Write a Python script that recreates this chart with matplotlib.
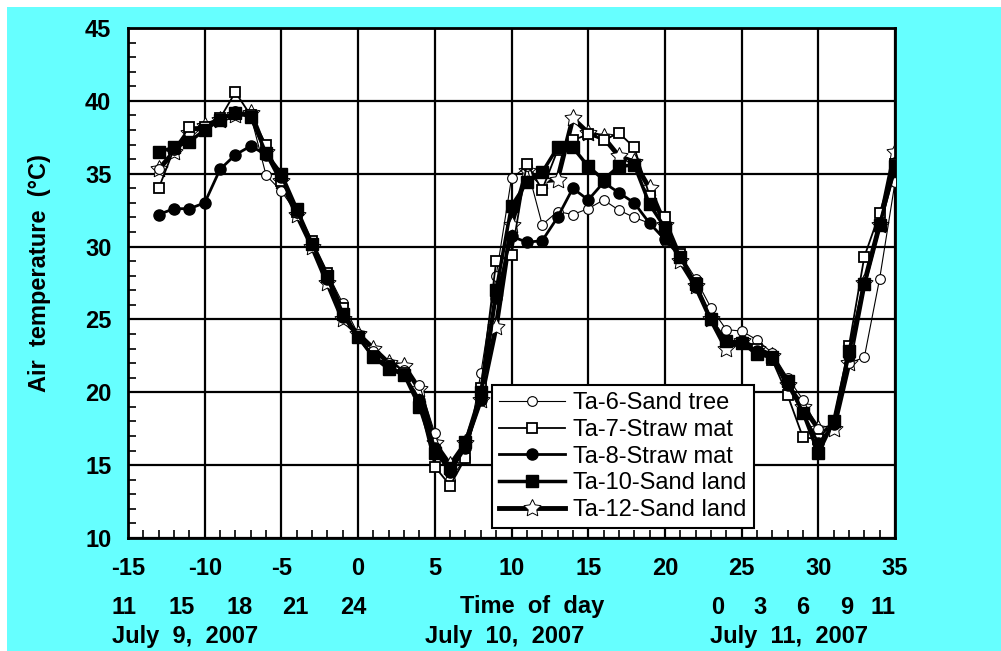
import matplotlib
matplotlib.use('Agg')
import matplotlib.pyplot as plt
from matplotlib.patches import Rectangle
from matplotlib.ticker import MultipleLocator

plt.rcParams['font.family'] = ['Liberation Sans', 'DejaVu Sans']
plt.rcParams['axes.unicode_minus'] = False

# hours relative to midnight of July 10
hours = list(range(-13, 36))

ta6 = [35.3, 36.6, 37.8, 38.2, 38.8, 39.3, 39.0, 34.9, 33.8, 32.3, 30.3, 28.2, 26.1,
       24.0, 22.8, 22.0, 21.5, 20.5, 17.2, 14.0, 15.5, 21.3, 28.0, 34.7, 35.5, 31.5,
       32.4, 32.2, 32.6, 33.2, 32.5, 32.0, 31.6, 30.4, 29.5, 27.8, 25.8, 24.3, 24.2,
       23.6, 22.7, 21.0, 19.5, 17.5, 17.8, 22.0, 22.4, 27.8, 34.4]
ta7 = [34.0, 36.7, 38.2, 38.2, 38.8, 40.6, 39.0, 37.0, 34.5, 32.4, 30.4, 28.2, 25.8,
       23.8, 22.5, 21.8, 21.3, 19.2, 14.9, 13.6, 15.5, 20.3, 29.0, 29.4, 35.7, 33.9,
       36.6, 37.3, 37.7, 37.3, 37.8, 36.8, 33.5, 32.0, 29.5, 27.5, 25.0, 23.5, 23.3,
       23.0, 22.2, 19.8, 16.9, 16.8, 18.0, 23.2, 29.3, 32.3, 35.7]
ta8 = [32.2, 32.6, 32.6, 33.0, 35.3, 36.3, 36.9, 36.3, 34.8, 32.5, 30.2, 27.8, 25.2,
       23.8, 22.4, 21.8, 21.2, 19.5, 16.2, 14.5, 16.2, 19.5, 26.5, 30.7, 30.3, 30.4,
       32.0, 34.0, 33.2, 34.4, 33.7, 33.0, 31.6, 30.5, 29.3, 27.2, 25.0, 23.5, 23.5,
       22.8, 22.3, 20.5, 18.6, 16.5, 17.8, 22.5, 27.5, 31.5, 35.3]
ta10 = [36.5, 36.8, 37.2, 38.0, 38.7, 39.2, 38.9, 36.4, 35.0, 32.6, 30.2, 28.0, 25.4,
        23.8, 22.4, 21.6, 21.2, 19.0, 15.8, 14.8, 16.6, 20.0, 27.0, 32.8, 34.4, 35.1,
        36.8, 36.8, 35.5, 34.6, 35.5, 35.6, 32.9, 31.3, 29.3, 27.4, 25.0, 23.5, 23.4,
        22.6, 22.4, 20.8, 18.6, 15.8, 18.0, 22.8, 27.4, 31.5, 35.5]
ta12 = [35.3, 36.5, 37.8, 38.3, 38.7, 39.0, 39.2, 36.5, 34.5, 32.2, 30.0, 27.5, 25.0,
        24.0, 23.0, 22.0, 21.8, 20.2, 16.5, 15.0, 16.5, 19.5, 24.5, 31.5, 35.2, 34.5,
        34.6, 38.8, 37.8, 37.5, 36.2, 35.8, 34.0, 31.5, 29.0, 27.3, 25.0, 23.0, 23.5,
        23.0, 22.5, 20.5, 19.0, 17.5, 17.5, 22.0, 27.5, 31.5, 36.5]

labels = ['Ta-6-Sand tree', 'Ta-7-Straw mat', 'Ta-8-Straw mat',
          'Ta-10-Sand land', 'Ta-12-Sand land']

cyan = '#66ffff'

fig = plt.figure(figsize=(10.01, 6.51), dpi=100)
fig.patch.set_facecolor('white')
fig.patches.append(Rectangle((7 / 1001, 0), 1, 1 - 7 / 651, transform=fig.transFigure,
                             facecolor=cyan, edgecolor='none', zorder=-10))

ax = fig.add_axes([128 / 1001, 1 - 538 / 651, (895 - 128) / 1001, (538 - 28) / 651])
ax.set_facecolor('white')

ax.plot(hours, ta6, color='black', lw=0.8, marker='o', ms=7, mfc='white', mec='black',
        mew=0.8, label=labels[0], zorder=3)
ax.plot(hours, ta7, color='black', lw=1.3, marker='s', ms=7, mfc='white', mec='black',
        mew=1.3, label=labels[1], zorder=4)
ax.plot(hours, ta8, color='black', lw=2.0, marker='o', ms=8, mfc='black', mec='black',
        label=labels[2], zorder=5)
ax.plot(hours, ta10, color='black', lw=2.5, marker='s', ms=9, mfc='black', mec='black',
        label=labels[3], zorder=6)
ax.plot(hours, ta12, color='black', lw=3.5, marker=(5, 1, 0), ms=13, mfc='white',
        mec='black', mew=0.7, label=labels[4], zorder=2)

ax.set_xlim(-15, 35)
ax.set_ylim(10, 45)
ax.xaxis.set_major_locator(MultipleLocator(5))
ax.xaxis.set_minor_locator(MultipleLocator(1))
ax.yaxis.set_major_locator(MultipleLocator(5))
ax.yaxis.set_minor_locator(MultipleLocator(1))
ax.grid(True, which='major', color='black', lw=1.6)
ax.set_axisbelow(True)
ax.tick_params(which='major', length=0, pad=12, labelsize=17)
ax.tick_params(axis='x', which='major', pad=14)
ax.tick_params(which='minor', direction='in', length=6, width=1.2, color='black')
for lab in ax.get_xticklabels() + ax.get_yticklabels():
    lab.set_fontweight('bold')
for sp in ax.spines.values():
    sp.set_linewidth(2)
    sp.set_color('black')

ax.set_ylabel('Air  temperature  (°C)', fontsize=17, fontweight='bold')
ax.yaxis.set_label_coords(-0.101, 0.52)

leg = ax.legend(loc='upper left', bbox_to_anchor=((492 - 128) / 767, 1 - (385 - 28) / 510),
                fontsize=17, frameon=True, fancybox=False, framealpha=1,
                edgecolor='black', borderpad=0.3, labelspacing=0.2,
                handlelength=2.8, handletextpad=0.35, borderaxespad=0)
leg.get_frame().set_linewidth(1.5)

# bottom annotations (time of day / dates)
hour_top = ['11', '15', '18', '21', '24']
hour_top_x = [124, 182, 240, 295, 353]
hour_bot = ['0', '3', '6', '9', '11']
hour_bot_x = [718, 760, 803, 847, 883]
dates = ['July  9,  2007', 'July  10,  2007', 'July  11,  2007']
dates_x = [112, 425, 710]

for t, px in zip(hour_top, hour_top_x):
    fig.text(px / 1001, 1 - 607 / 651, t, ha='center', va='center', fontsize=17,
             fontweight='bold')
for t, px in zip(hour_bot, hour_bot_x):
    fig.text(px / 1001, 1 - 607 / 651, t, ha='center', va='center', fontsize=17,
             fontweight='bold')
fig.text(532 / 1001, 1 - 607 / 651, 'Time  of  day', ha='center', va='center', fontsize=17,
         fontweight='bold')
for t, px in zip(dates, dates_x):
    fig.text(px / 1001, 1 - 636 / 651, t, ha='left', va='center', fontsize=17,
             fontweight='bold')

fig.savefig('out.png', dpi=100)
